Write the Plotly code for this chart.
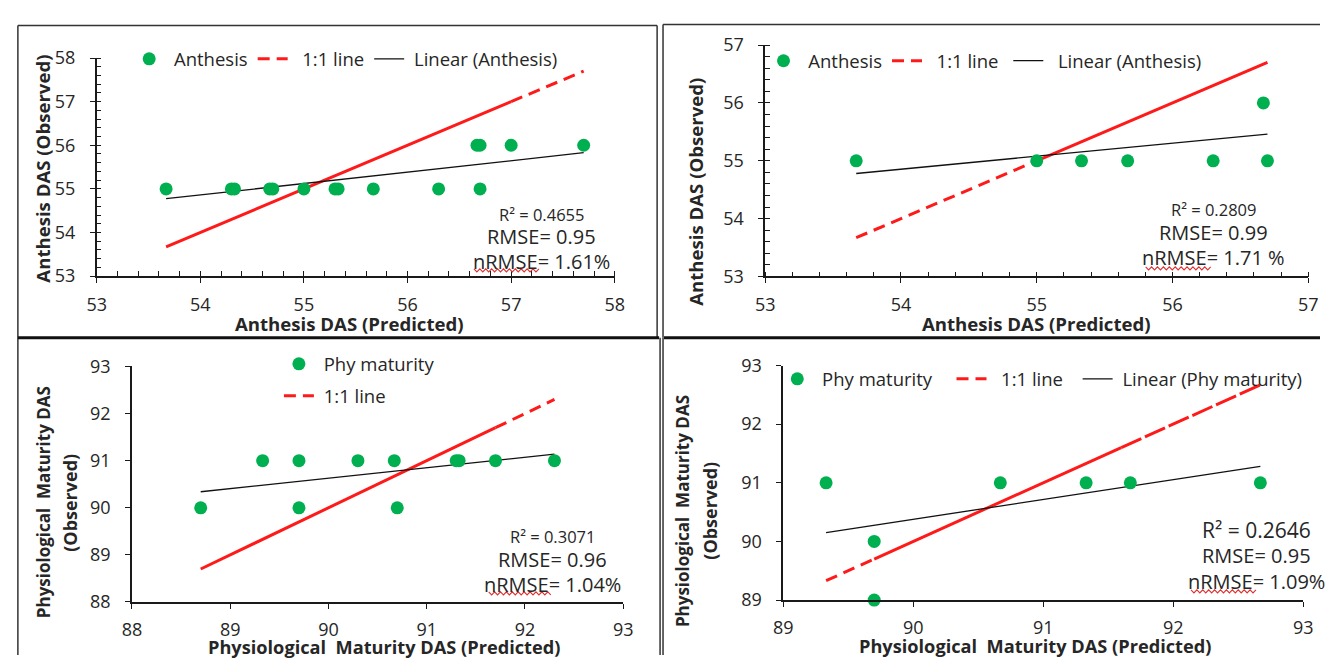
import plotly.graph_objects as go

# ---------------- data ----------------
# Panel 1: Anthesis (left)
p1_pred = [53.67, 54.3, 54.33, 54.67, 54.7, 55.0, 55.3, 55.33, 55.67, 56.3, 56.7, 56.67, 56.7, 57.0, 57.7]
p1_obs = [55, 55, 55, 55, 55, 55, 55, 55, 55, 55, 55, 56, 56, 56, 56]
p1_line_solid = [53.67, 57.0]
p1_line_dash = [57.0, 57.7]
p1_trend_x = [53.67, 57.7]
p1_trend_y = [54.775, 55.83]
p1_stats = ["R² = 0.4655", "RMSE= 0.95", "nRMSE= 1.61%"]

# Panel 2: Anthesis (right)
p2_pred = [53.67, 55.0, 55.33, 55.67, 56.3, 56.7, 56.67]
p2_obs = [55, 55, 55, 55, 55, 55, 56]
p2_line_dash = [53.67, 55.0]
p2_line_solid = [55.0, 56.7]
p2_trend_x = [53.67, 56.7]
p2_trend_y = [54.78, 55.46]
p2_stats = ["R² = 0.2809", "RMSE= 0.99", "nRMSE= 1.71 %"]

# Panel 3: Physiological maturity (left)
p3_pred = [89.33, 89.7, 90.3, 90.67, 91.3, 91.33, 91.7, 92.3, 88.7, 89.7, 90.7]
p3_obs = [91, 91, 91, 91, 91, 91, 91, 91, 90, 90, 90]
p3_line_solid = [88.7, 91.7]
p3_line_dash = [91.7, 92.3]
p3_trend_x = [88.7, 92.3]
p3_trend_y = [90.34, 91.14]
p3_stats = ["R² = 0.3071", "RMSE= 0.96", "nRMSE= 1.04%"]

# Panel 4: Physiological maturity (right)
p4_pred = [89.33, 90.67, 91.33, 91.67, 92.67, 89.7, 89.7]
p4_obs = [91, 91, 91, 91, 91, 90, 89]
p4_line_dash = [89.33, 89.7]
p4_line_solid = [89.7, 91.6]
p4_line_dash2 = [91.6, 92.67]
p4_trend_x = [89.33, 92.67]
p4_trend_y = [90.15, 91.28]
p4_stats = ["R² = 0.2646", "RMSE= 0.95", "nRMSE= 1.09%"]

# ---------------- styling ----------------
FW, FH = 1330, 666
FONT = "'Open Sans', Lato, sans-serif"
GREEN = "#00B050"
RED = "#FF1A1A"
TXT = "#262626"
NB = "\u00a0"


def px(x):
    return x / FW


def py(y):
    return 1 - y / FH


fig = go.Figure()


def add_panel(i, pred, obs, name, segs, trend_x, trend_y, trend_name, legend_trend=True):
    xa = "x" if i == 1 else f"x{i}"
    ya = "y" if i == 1 else f"y{i}"
    lg = "legend" if i == 1 else f"legend{i}"
    first_dash = True
    for seg, dash, nm in segs:
        show = dash is not None and first_dash
        if show:
            first_dash = False
        fig.add_trace(go.Scatter(
            x=seg, y=seg, mode="lines", xaxis=xa, yaxis=ya, legend=lg,
            name=nm, showlegend=show, legendrank=2, legendgroup=f"l{i}",
            line=dict(color=RED, width=3, dash=dash if dash else "solid"),
            hoverinfo="skip"))
    fig.add_trace(go.Scatter(
        x=trend_x, y=trend_y, mode="lines", xaxis=xa, yaxis=ya, legend=lg,
        name=trend_name, showlegend=legend_trend, legendrank=3, legendgroup=f"t{i}",
        line=dict(color="#111111", width=1.3), hoverinfo="skip"))
    fig.add_trace(go.Scatter(
        x=pred, y=obs, mode="markers", xaxis=xa, yaxis=ya, legend=lg,
        name=name, legendrank=1, legendgroup=f"m{i}", cliponaxis=False,
        marker=dict(color=GREEN, size=13)))


DASH = "12px,7px"
L11 = NB * 2 + "1:1 line"
add_panel(1, p1_pred, p1_obs, NB + "Anthesis",
          [(p1_line_solid, None, L11), (p1_line_dash, DASH, L11)],
          p1_trend_x, p1_trend_y, NB + "Linear (Anthesis)")
add_panel(2, p2_pred, p2_obs, NB + "Anthesis",
          [(p2_line_dash, DASH, L11 + NB), (p2_line_solid, None, L11)],
          p2_trend_x, p2_trend_y, NB * 2 + "Linear (Anthesis)")
add_panel(3, p3_pred, p3_obs, NB + "Phy maturity",
          [(p3_line_solid, None, L11), (p3_line_dash, DASH, NB + "1:1 line")],
          p3_trend_x, p3_trend_y, "Linear (Phy maturity)", legend_trend=False)
add_panel(4, p4_pred, p4_obs, NB + "Phy maturity" + NB * 3,
          [(p4_line_dash, DASH, L11 + NB * 2), (p4_line_solid, None, L11),
           (p4_line_dash2, "22px,4px", L11)],
          p4_trend_x, p4_trend_y, NB + "Linear (Phy maturity)")

# plot-area geometry in pixels
panels = {
    1: dict(x0=88, x1=614, ytop=46.7, ybot=273, xr=[53, 58], yr=[53, 58], minor=0.2),
    2: dict(x0=766.8, x1=1318, ytop=33.3, ybot=273.3, xr=[53, 57], yr=[53, 57], minor=0.2),
    3: dict(x0=123.8, x1=622.6, ytop=366.7, ybot=611, xr=[88, 93], yr=[88, 93], minor=None),
    4: dict(x0=785, x1=1313, ytop=365.7, ybot=609, xr=[89, 93], yr=[89, 93], minor=None),
}

layout = {}
for i, p in panels.items():
    xk = "xaxis" if i == 1 else f"xaxis{i}"
    yk = "yaxis" if i == 1 else f"yaxis{i}"
    ya = "y" if i == 1 else f"y{i}"
    xa = "x" if i == 1 else f"x{i}"
    common = dict(showgrid=False, zeroline=False, showline=True, linecolor="#1a1a1a",
                  linewidth=1.6, ticks="outside", ticklen=5, tickwidth=1.4, tickcolor="#1a1a1a",
                  dtick=1, tickfont=dict(family=FONT, size=18, color=TXT), fixedrange=True)
    if p["minor"]:
        common["minor"] = dict(dtick=p["minor"], ticks="inside", ticklen=5, tickwidth=1.2,
                               tickcolor="#1a1a1a", showgrid=False)
    layout[xk] = dict(common, domain=[px(p["x0"]), px(p["x1"])], range=p["xr"], anchor=ya,
                      ticklabelstandoff=6)
    layout[yk] = dict(common, domain=[py(p["ybot"]), py(p["ytop"])], range=p["yr"], anchor=xa,
                      ticklabelstandoff=11)

fig.update_layout(**layout)

leg_common = dict(bgcolor="rgba(0,0,0,0)", font=dict(family=FONT, size=18.5, color=TXT),
                  xanchor="left", yanchor="middle")
fig.update_layout(
    legend=dict(leg_common, orientation="h", x=px(121), y=py(48)),
    legend2=dict(leg_common, orientation="h", x=px(765), y=py(50)),
    legend3=dict(leg_common, orientation="v", x=px(273), y=py(381), tracegroupgap=5),
    legend4=dict(leg_common, orientation="h", x=px(779), y=py(380)),
)

ann = []


def text(x, y, s, size=16, bold=False, angle=0):
    ann.append(dict(x=px(x), y=py(y), xref="paper", yref="paper", text=f"<b>{s}</b>" if bold else s,
                    showarrow=False, textangle=angle, xanchor="center", yanchor="middle",
                    font=dict(family=FONT, size=size, color=TXT)))


TS = 18.6
PHYS = "Physiological " + NB + "Maturity DAS"
text(345, 322, "Anthesis DAS (Predicted)", TS, True)
text(33, 162, "Anthesis DAS (Observed)", TS, True, -90)
text(1042, 322, "Anthesis DAS (Predicted)", TS, True)
text(696, 186, "Anthesis DAS (Observed)", TS, True, -90)
text(380, 658, PHYS + " (Predicted)", 18.2, True)
text(34, 507, PHYS, 17, True, -90)
text(61, 508, "(Observed)", 18, True, -90)
text(1041, 657, PHYS + " (Predicted)", 18.2, True)
text(683, 517, PHYS, 17, True, -90)
text(711, 516, "(Observed)", 18, True, -90)

for s, (cx, ys, sz) in zip([p1_stats, p2_stats, p3_stats, p4_stats],
                           [(540, [209, 232, 258], [16.5, 20, 20]),
                            (1222, [204, 228, 254], [16.5, 20, 20]),
                            (551, [543, 567, 593], [16.5, 20, 20]),
                            (1266, [536, 563, 590], [21, 20, 20])]):
    for t, yy, z in zip(s, ys, sz):
        text(cx, yy, t, z)

fig.update_layout(annotations=ann)

shapes = []


def line(x0, y0, x1, y1, w=1.5, color="#333333", dash="solid"):
    shapes.append(dict(type="line", xref="paper", yref="paper", x0=px(x0), y0=py(y0),
                       x1=px(x1), y1=py(y1), line=dict(color=color, width=w, dash=dash)))


def squiggle(x0, x1, yy, step=3.0, amp=1.6):
    pts = []
    k = 0
    x = x0
    while x <= x1:
        yv = yy + (amp if k % 2 else -amp)
        pts.append(f"{px(x):.6f},{py(yv):.6f}")
        x += step
        k += 1
    shapes.append(dict(type="path", xref="paper", yref="paper", path="M" + " L".join(pts),
                       line=dict(color="#E03030", width=1.1)))


line(8, 13, 657, 13)
line(8, 13, 8, 666)
line(657, 13, 657, 337)
line(663, 12, 663, 337)
line(663, 12, 1330, 12)
line(8, 337, 659, 337, w=3, color="#111111")
line(664, 337, 1330, 337, w=3, color="#111111")
line(660, 337, 660, 666)
line(663, 337, 663, 666)
for x0, x1, yy in [(471, 538, 267), (1153, 1220, 265), (486, 551, 602), (1199, 1265, 600)]:
    squiggle(x0, x1, yy)

fig.update_layout(shapes=shapes, autosize=True, margin=dict(l=0, r=0, t=0, b=0),
                  paper_bgcolor="white", plot_bgcolor="white", showlegend=True,
                  font=dict(family=FONT))

fig.write_html(
    "out.html",
    default_width="100vw",
    default_height="100vh",
    config={"displayModeBar": False, "responsive": True},
    post_script="document.documentElement.style.margin='0';document.documentElement.style.padding='0';"
                "document.documentElement.style.overflow='hidden';"
                "document.body.style.margin='0';document.body.style.padding='0';"
                "document.body.style.overflow='hidden';",
)
